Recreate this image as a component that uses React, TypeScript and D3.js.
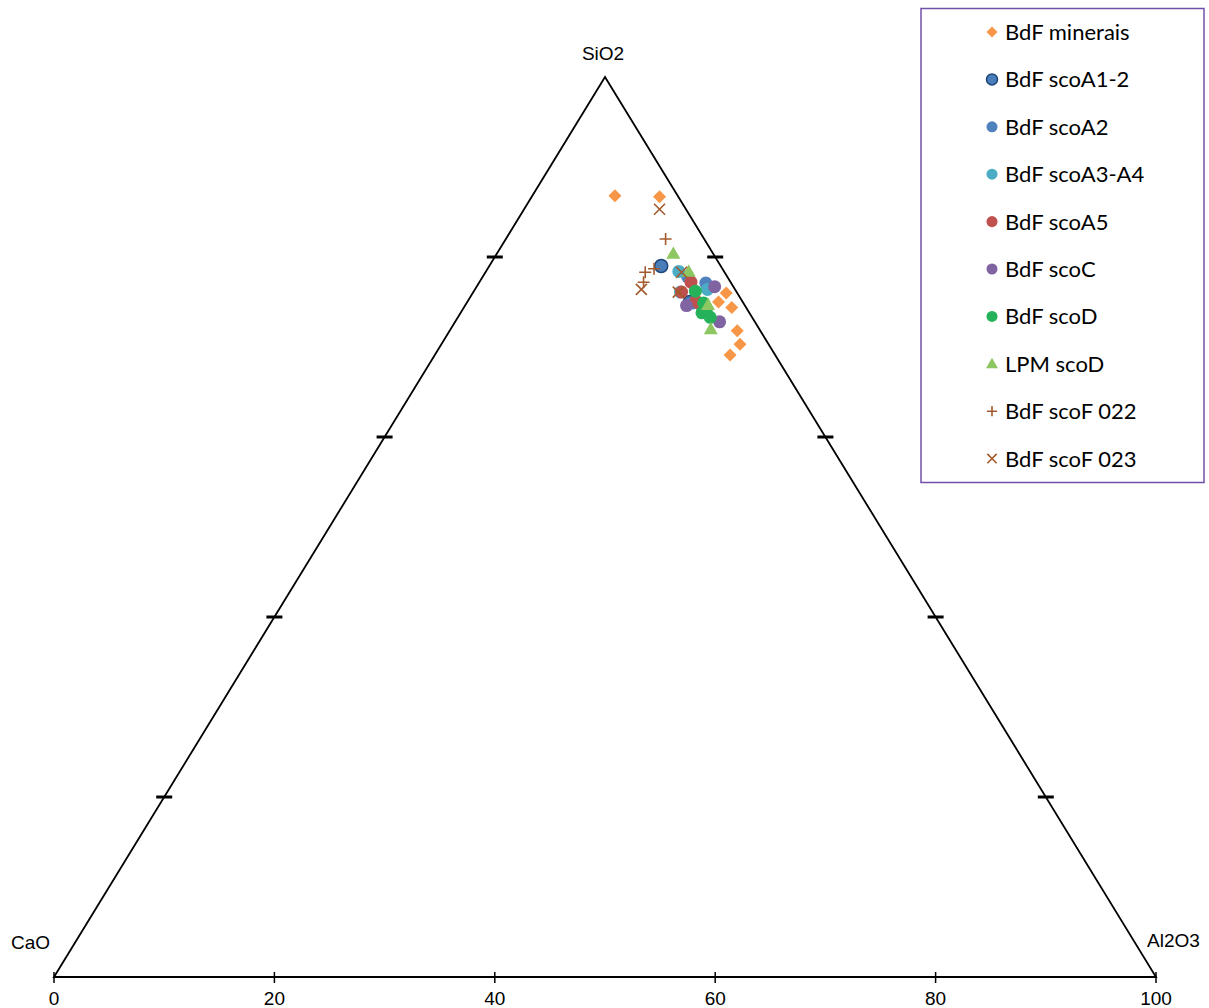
import React from "react";
import * as d3 from "d3";

// Ternary data: SiO2 and Al2O3 percentages (CaO = remainder)
const seriesNames = [
  "BdF minerais",
  "BdF scoA1-2",
  "BdF scoA2",
  "BdF scoA3-A4",
  "BdF scoA5",
  "BdF scoC",
  "BdF scoD",
  "LPM scoD",
  "BdF scoF 022",
  "BdF scoF 023",
];

const mineraisSiO2 = [86.8, 86.7, 76.0, 75.0, 74.4, 71.8, 70.3, 69.1];
const mineraisAl2O3 = [7.5, 11.6, 23.0, 22.8, 24.3, 26.1, 27.1, 26.8];

const scoA12SiO2 = [79.0, 75.0];
const scoA12Al2O3 = [15.6, 20.2];

const scoA2SiO2 = [77.1, 77.8, 74.9];
const scoA2Al2O3 = [20.6, 18.6, 20.5];

const scoA34SiO2 = [78.4, 76.4, 76.1];
const scoA34Al2O3 = [17.5, 21.1, 18.8];

const scoA5SiO2 = [77.2, 76.1, 75.1, 74.8];
const scoA5Al2O3 = [19.2, 18.9, 20.7, 21.2];

const scoCSiO2 = [74.6, 76.7, 72.8];
const scoCAl2O3 = [20.1, 21.6, 24.0];

const scoDSiO2 = [76.2, 74.9, 73.8, 73.3, 74.2];
const scoDAl2O3 = [20.1, 21.5, 21.9, 22.9, 22.1];

const lpmSiO2 = [80.4, 78.4, 74.7, 72.0];
const lpmAl2O3 = [16.0, 18.4, 22.0, 23.6];

const scoF022SiO2 = [82.0, 78.7, 78.3, 77.2];
const scoF022Al2O3 = [14.5, 15.1, 14.5, 14.9];

const scoF023SiO2 = [85.3, 78.3, 76.4, 76.1];
const scoF023Al2O3 = [12.3, 17.8, 15.1, 18.6];

const bottomTicks = [0, 20, 40, 60, 80, 100];
const sideTicks = [20, 40, 60, 80];

type Shape = "diamond" | "circle" | "triangle" | "plus" | "cross";
const seriesStyle: { shape: Shape; fill: string; stroke?: string }[] = [
  { shape: "diamond", fill: "#f79646" },
  { shape: "circle", fill: "#4a7ebb", stroke: "#1f4679" },
  { shape: "circle", fill: "#4f81bd" },
  { shape: "circle", fill: "#4bacc6" },
  { shape: "circle", fill: "#c0504d" },
  { shape: "circle", fill: "#8064a2" },
  { shape: "circle", fill: "#26b25a" },
  { shape: "triangle", fill: "#8cc762" },
  { shape: "plus", fill: "#a35a2d" },
  { shape: "cross", fill: "#a35a2d" },
];

const seriesData: [number[], number[]][] = [
  [mineraisSiO2, mineraisAl2O3],
  [scoA12SiO2, scoA12Al2O3],
  [scoA2SiO2, scoA2Al2O3],
  [scoA34SiO2, scoA34Al2O3],
  [scoA5SiO2, scoA5Al2O3],
  [scoCSiO2, scoCAl2O3],
  [scoDSiO2, scoDAl2O3],
  [lpmSiO2, lpmAl2O3],
  [scoF022SiO2, scoF022Al2O3],
  [scoF023SiO2, scoF023Al2O3],
];

const xScale = d3.scaleLinear().domain([0, 100]).range([54, 1156]);
const yScale = d3.scaleLinear().domain([0, 100]).range([977, 77]);

function tern(si: number, al: number): [number, number] {
  return [xScale(al + si / 2), yScale(si)];
}

function Marker({ shape, fill, stroke, x, y, s = 1 }: { shape: Shape; fill: string; stroke?: string; x: number; y: number; s?: number }) {
  if (shape === "circle") {
    return <circle cx={x} cy={y} r={6.5 * s} fill={fill} stroke={stroke || "none"} strokeWidth={stroke ? 1.5 : 0} />;
  }
  if (shape === "diamond") {
    const r = 6.5 * s;
    return <path d={`M${x},${y - r}L${x + r},${y}L${x},${y + r}L${x - r},${y}Z`} fill={fill} />;
  }
  if (shape === "triangle") {
    const r = 7 * s;
    return <path d={`M${x},${y - r}L${x + r},${y + r * 0.75}L${x - r},${y + r * 0.75}Z`} fill={fill} />;
  }
  if (shape === "plus") {
    const r = 6 * s;
    return <path d={`M${x - r},${y}H${x + r}M${x},${y - r}V${y + r}`} stroke={fill} strokeWidth={1.6} fill="none" />;
  }
  const r = 5.5 * s;
  return <path d={`M${x - r},${y - r}L${x + r},${y + r}M${x - r},${y + r}L${x + r},${y - r}`} stroke={fill} strokeWidth={1.6} fill="none" />;
}

export default function App() {
  const [ax, ay] = tern(100, 0);
  const [lx, ly] = tern(0, 0);
  const [rx, ry] = tern(0, 100);
  const axisFont = "'Liberation Sans', Arial, sans-serif";
  return (
    <svg width={1209} height={1008} style={{ position: "absolute", left: 0, top: 0, background: "#fff" }} xmlns="http://www.w3.org/2000/svg">
      <rect x={0} y={0} width={1209} height={1008} fill="#fff" />
      {/* triangle */}
      <path d={`M${lx},${ly}L${ax},${ay}L${rx},${ry}Z`} fill="none" stroke="#000" strokeWidth={1.8} strokeLinejoin="miter" />
      {/* bottom ticks */}
      {bottomTicks.map((t) => (
        <g key={"bt" + t}>
          <line x1={xScale(t)} x2={xScale(t)} y1={972} y2={983} stroke="#000" strokeWidth={1.5} />
          <text x={xScale(t)} y={1005} textAnchor="middle" fontFamily={axisFont} fontSize={19} fill="#000">{t}</text>
        </g>
      ))}
      {/* side tick dashes */}
      {sideTicks.map((s) => {
        const [x1, y1] = tern(s, 0);
        const [x2, y2] = tern(s, 100 - s);
        return (
          <g key={"st" + s}>
            <rect x={x1 - 8} y={y1 - 1.5} width={16} height={3} fill="#000" />
            <rect x={x2 - 8} y={y2 - 1.5} width={16} height={3} fill="#000" />
          </g>
        );
      })}
      {/* vertex labels */}
      <text x={603} y={60} textAnchor="middle" fontFamily={axisFont} fontSize={19} fill="#000">SiO2</text>
      <text x={11} y={949} fontFamily={axisFont} fontSize={19} fill="#000">CaO</text>
      <text x={1147} y={947} fontFamily={axisFont} fontSize={19} fill="#000">Al2O3</text>
      {/* points */}
      {seriesData.map(([si, al], i) => (
        <g key={"s" + i}>
          {si.map((v, j) => {
            const [x, y] = tern(v, al[j]);
            return <Marker key={j} {...seriesStyle[i]} x={x} y={y} />;
          })}
        </g>
      ))}
      {/* legend */}
      <rect x={921} y={8.5} width={283} height={474} fill="#fff" stroke="#7050a8" strokeWidth={1.5} />
      {seriesNames.map((name, i) => {
        const cy = 32 + i * 47.4;
        return (
          <g key={"l" + i}>
            <Marker {...seriesStyle[i]} x={992} y={cy} s={0.85} />
            <text x={1005} y={cy + 8} fontFamily="Lato, 'Open Sans', sans-serif" fontSize={22} fill="#000">{name}</text>
          </g>
        );
      })}
    </svg>
  );
}
